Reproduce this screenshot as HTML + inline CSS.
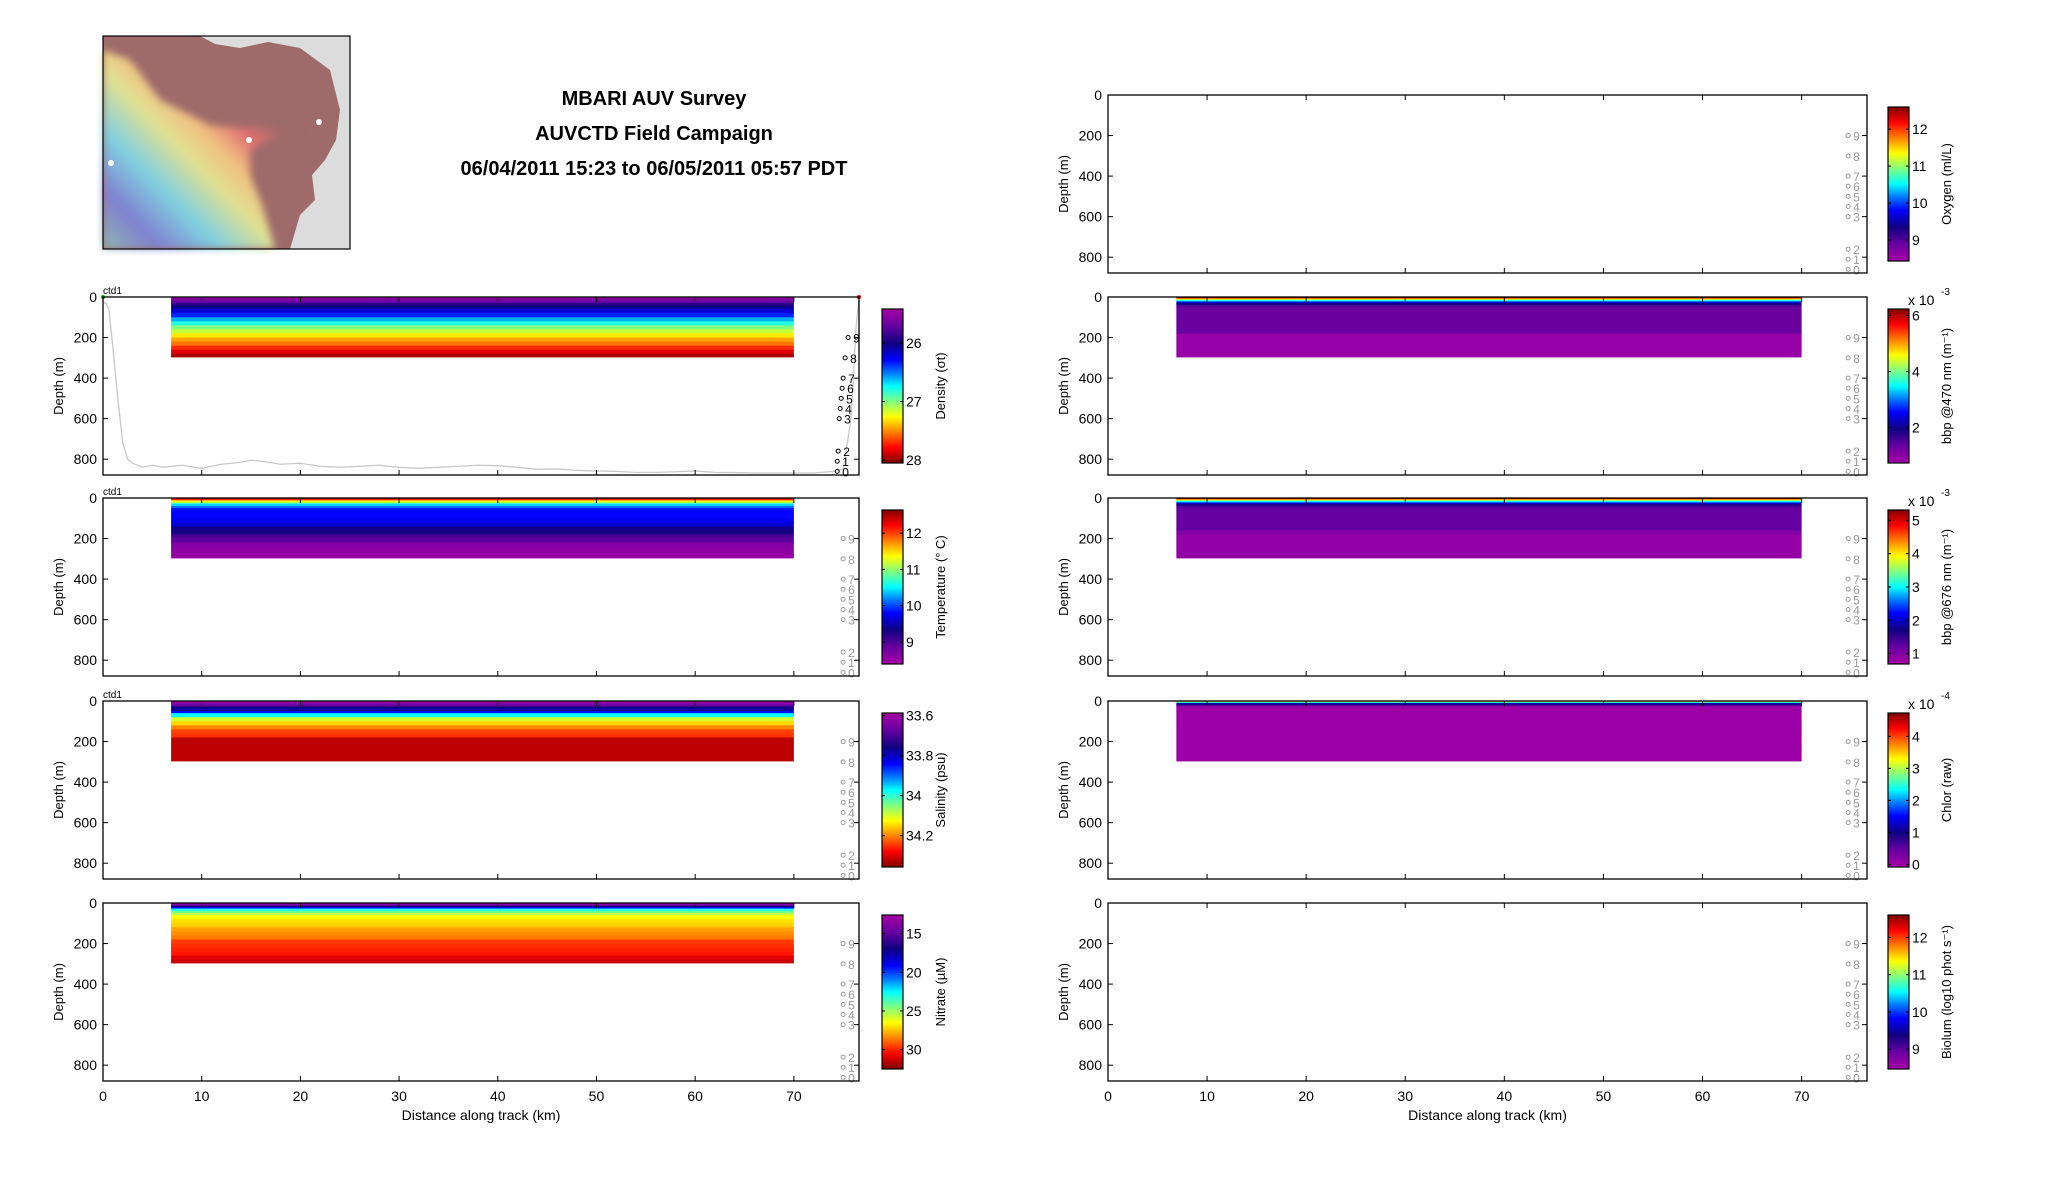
<!DOCTYPE html>
<html><head><meta charset="utf-8"><style>
body{margin:0;background:#fff;}
svg{display:block;font-family:"Liberation Sans",sans-serif;}
</style></head><body>
<svg id="fig" width="2052" height="1188" viewBox="0 0 2052 1188" xmlns="http://www.w3.org/2000/svg">
<defs>
<linearGradient id="jetV" x1="0" y1="1" x2="0" y2="0">
<stop offset="0" stop-color="#a800a8"/><stop offset="0.12" stop-color="#6000a0"/><stop offset="0.22" stop-color="#100080"/><stop offset="0.33" stop-color="#0000ff"/><stop offset="0.42" stop-color="#0080ff"/><stop offset="0.5" stop-color="#00ffff"/><stop offset="0.6" stop-color="#80ff80"/><stop offset="0.7" stop-color="#ffff00"/><stop offset="0.8" stop-color="#ff8000"/><stop offset="0.9" stop-color="#ff0000"/><stop offset="1" stop-color="#800000"/>
</linearGradient>
<linearGradient id="jetVinv" x1="0" y1="0" x2="0" y2="1">
<stop offset="0" stop-color="#a800a8"/><stop offset="0.12" stop-color="#6000a0"/><stop offset="0.22" stop-color="#100080"/><stop offset="0.33" stop-color="#0000ff"/><stop offset="0.42" stop-color="#0080ff"/><stop offset="0.5" stop-color="#00ffff"/><stop offset="0.6" stop-color="#80ff80"/><stop offset="0.7" stop-color="#ffff00"/><stop offset="0.8" stop-color="#ff8000"/><stop offset="0.9" stop-color="#ff0000"/><stop offset="1" stop-color="#800000"/>
</linearGradient>
<linearGradient id="mapG" x1="0" y1="1" x2="1" y2="0">
<stop offset="0" stop-color="#8fb8b0"/><stop offset="0.15" stop-color="#8080d0"/><stop offset="0.3" stop-color="#80d0e0"/><stop offset="0.45" stop-color="#e0e090"/><stop offset="0.55" stop-color="#f0c080"/><stop offset="0.65" stop-color="#e07070"/><stop offset="0.75" stop-color="#9e6a6a"/>
</linearGradient>
<filter id="blur"><feGaussianBlur stdDeviation="4"/></filter>
</defs>
<g id="map">
<rect x="103" y="36" width="247" height="213" fill="#dcdcdc"/>
<path d="M103 36 L200 36 L215 44 L240 48 L268 42 L300 48 L330 70 L340 110 L336 140 L325 160 L312 175 L315 200 L300 215 L290 249 L103 249 Z" fill="#9e6a6a"/>
<path d="M103 50 L130 60 L160 100 L190 115 L210 125 L240 128 L280 125 L300 128 L270 140 L250 150 L250 175 L262 205 L275 249 L103 249 Z" fill="url(#mapG)" filter="url(#blur)"/>
<circle cx="111" cy="163" r="3" fill="#fff"/><circle cx="249" cy="140" r="3" fill="#fff"/><circle cx="319" cy="122" r="3" fill="#fff"/>
<rect x="103" y="36" width="247" height="213" fill="none" stroke="#000" stroke-width="1.2"/>
</g>
<g font-weight="bold" font-size="20" text-anchor="middle">
<text x="654" y="105">MBARI AUV Survey</text>
<text x="654" y="140">AUVCTD Field Campaign</text>
<text x="654" y="175">06/04/2011 15:23 to 06/05/2011 05:57 PDT</text>
</g>
<g id="panels"></g>
</svg>
<script>
const xTicks=[0,10,20,30,40,50,60,70];
const yTicks=[0,200,400,600,800];
const bandDepths=[0,5,10,15,20,25,30,40,50,60,80,100,120,140,160,180,200,220,240,260,280,295];
const densityVals=[25.5,25.55,25.6,25.65,25.7,25.75,25.9,26.0,26.05,26.2,26.35,26.6,26.8,27.0,27.15,27.3,27.45,27.55,27.7,27.85,27.97];
const tempVals=[12.3,12.1,11.6,11.3,11.1,10.7,10.4,10.1,9.85,9.8,9.8,9.75,9.65,9.35,9.3,9.0,8.9,8.65,8.6,8.55,8.5];
const salVals=[33.6,33.62,33.63,33.65,33.68,33.72,33.76,33.78,33.85,33.97,34.1,34.15,34.2,34.24,34.25,34.32,34.32,34.32,34.32,34.32,34.32];
const nitVals=[13,13.5,15,17,19,21,23,24.5,25.5,26.5,27,27.3,28,28.3,28.6,29.6,29.8,30,30.2,31,31.3];
const bbp470Vals=[6.0,5.2,4.3,3.6,3.0,2.3,1.9,1.5,1.3,1.3,1.3,1.3,1.3,1.3,1.3,0.9,0.9,0.9,0.9,0.9,0.9];
const bbp676Vals=[5.0,4.3,3.6,3.0,2.5,2.0,1.6,1.3,1.2,1.2,1.2,1.2,1.2,1.2,1.0,0.85,0.85,0.85,0.85,0.85,0.85];
const chlVals=[3.5,2.5,1.2,0.9,0.5,0.1,0.0,0.0,0.0,0.0,0.0,0.0,0.0,0.0,0.0,0.0,0.0,0.0,0.0,0.0,0.0];
const sectionKm=[6.9,70];
const bathyKm=[0,0.3,0.6,1,1.5,2,2.5,3,4,5,6,8,10,12,14,15,16,18,20,22,24,26,28,30,32,34,36,38,40,42,44,46,48,50,52,54,56,58,60,62,64,66,68,70,72,74,75,75.8,76.3,76.6];
const bathyDepth=[30,30,60,250,500,720,800,820,840,830,840,830,845,825,815,805,810,825,820,835,840,835,830,840,845,840,835,830,832,840,850,848,855,858,860,865,865,862,858,865,866,868,868,868,868,860,850,600,150,0];
const stationLabels=['0','1','2','3','4','5','6','7','8','9'];
const stationDepth=[860,810,760,600,550,500,450,400,300,200];
const stationKm=[75.0,75.0,75.1,75.2,75.3,75.4,75.5,75.6,75.8,76.1];
const kmMax=76.6, dMax=878;
const stops=[[0,[168,0,168]],[0.12,[96,0,160]],[0.22,[16,0,128]],[0.33,[0,0,255]],[0.42,[0,128,255]],[0.5,[0,255,255]],[0.6,[128,255,128]],[0.7,[255,255,0]],[0.8,[255,128,0]],[0.9,[255,0,0]],[1,[128,0,0]]];
function cmap(f){f=Math.max(0,Math.min(1,f));for(let i=1;i<stops.length;i++){if(f<=stops[i][0]){const a=stops[i-1],b=stops[i];const t=(f-a[0])/(b[0]-a[0]);const c=a[1].map((v,k)=>Math.round(v+(b[1][k]-v)*t));return `rgb(${c})`;}}return 'rgb(128,0,0)';}
const NS='http://www.w3.org/2000/svg';
const root=document.getElementById('panels');
function el(tag,attrs,parent,txt){const e=document.createElementNS(NS,tag);for(const k in attrs)e.setAttribute(k,attrs[k]);if(txt!==undefined)e.textContent=txt;(parent||root).appendChild(e);return e;}
const panels=[
{id:'density',x0:103,x1:859,y0:297,vals:densityVals,min:25.42,max:28.05,inv:true,cbx:882,ticks:[26,27,28],title:'Density (σt)',ctd:true,bathy:true,xl:false},
{id:'temperature',x0:103,x1:859,y0:498,vals:tempVals,min:8.39,max:12.64,inv:false,cbx:882,ticks:[9,10,11,12],title:'Temperature (° C)',ctd:true,xl:false},
{id:'salinity',x0:103,x1:859,y0:701,vals:salVals,min:33.587,max:34.357,inv:true,cbx:882,ticks:[33.6,33.8,34,34.2],title:'Salinity (psu)',ctd:true,xl:false},
{id:'nitrate',x0:103,x1:859,y0:903,vals:nitVals,min:12.6,max:32.5,inv:true,cbx:882,ticks:[15,20,25,30],title:'Nitrate (µM)',xl:true},
{id:'oxygen',x0:1108,x1:1867,y0:95,vals:null,min:8.43,max:12.6,inv:false,cbx:1888,ticks:[9,10,11,12],title:'Oxygen (ml/L)',xl:false},
{id:'bbp470',x0:1108,x1:1867,y0:297,vals:bbp470Vals,min:0.74,max:6.23,inv:false,cbx:1888,ticks:[2,4,6],title:'bbp @470 nm (m⁻¹)',exp:'-3',xl:false},
{id:'bbp676',x0:1108,x1:1867,y0:498,vals:bbp676Vals,min:0.69,max:5.31,inv:false,cbx:1888,ticks:[1,2,3,4,5],title:'bbp @676 nm (m⁻¹)',exp:'-3',xl:false},
{id:'chlor',x0:1108,x1:1867,y0:701,vals:chlVals,min:-0.08,max:4.73,inv:false,cbx:1888,ticks:[0,1,2,3,4],title:'Chlor (raw)',exp:'-4',xl:false},
{id:'biolum',x0:1108,x1:1867,y0:903,vals:null,min:8.47,max:12.6,inv:false,cbx:1888,ticks:[9,10,11,12],title:'Biolum (log10 phot s⁻¹)',xl:true}
];
const PH=178;
panels.forEach(p=>{
 const g=el('g',{});
 
 
 const sx=k=>p.x0+k/kmMax*(p.x1-p.x0);
 const sy=d=>p.y0+d/dMax*PH;
 if(p.vals){
  p.vals.forEach((v,i)=>{
   const r=el('rect',{x:sx(sectionKm[0]),y:sy(bandDepths[i]),width:sx(sectionKm[1])-sx(sectionKm[0]),height:sy(bandDepths[i+1])-sy(bandDepths[i])+0.6,fill:cmap((v-p.min)/(p.max-p.min))},g);
   
   
  });
 }
 if(p.bathy){
  const pts=bathyKm.map((k,i)=>sx(k)+','+sy(bathyDepth[i])).join(' ');
  const pl=el('polyline',{points:pts,fill:'none',stroke:'#c8c8c8','stroke-width':1.3},g);
  
  
  el('circle',{cx:sx(0),cy:sy(0),r:2,fill:'#0a0'},g);
  el('circle',{cx:sx(kmMax),cy:sy(0),r:2,fill:'#e00'},g);
 }
 const sc=p.bathy?'#000':'#999';
 stationLabels.forEach((s,i)=>{
  const k=p.bathy?stationKm[i]:(p.x0>500?75.3:75.6);
  const c=el('circle',{cx:sx(k)-6,cy:sy(stationDepth[i]),r:2,fill:'none',stroke:sc,'stroke-width':1},g);
  
  
  el('text',{x:sx(k)-1,y:sy(stationDepth[i])+5,'font-size':12,fill:sc},g,s);
 });
 el('rect',{x:p.x0,y:p.y0,width:p.x1-p.x0,height:PH,fill:'none',stroke:'#000','stroke-width':1.3},g);
 xTicks.forEach(t=>{el('line',{x1:sx(t),x2:sx(t),y1:p.y0,y2:p.y0+5,stroke:'#000'},g);el('line',{x1:sx(t),x2:sx(t),y1:p.y0+PH,y2:p.y0+PH-5,stroke:'#000'},g);
  if(p.xl){const t2=el('text',{x:sx(t),y:p.y0+PH+20,'font-size':14,'text-anchor':'middle'},g,String(t));}
 });
 yTicks.forEach(t=>{el('line',{x1:p.x0,x2:p.x0+5,y1:sy(t),y2:sy(t),stroke:'#000'},g);el('line',{x1:p.x1,x2:p.x1-5,y1:sy(t),y2:sy(t),stroke:'#000'},g);
  const t2=el('text',{x:p.x0-6,y:sy(t)+5,'font-size':14,'text-anchor':'end'},g,String(t));});
 const yl=el('text',{x:0,y:0,'font-size':13,'text-anchor':'middle',transform:`translate(${p.x0-40},${p.y0+PH/2}) rotate(-90)`},g,'Depth (m)');
 
 
 if(p.ctd){const c=el('text',{x:p.x0,y:p.y0-3,'font-size':10},g,'ctd1');}
 if(p.xl){const xt=el('text',{x:(p.x0+p.x1)/2,y:p.y0+PH+39,'font-size':14,'text-anchor':'middle'},g,'Distance along track (km)');}
 const cy0=p.y0+12,ch=154,cw=21;
 const cb=el('rect',{x:p.cbx,y:cy0,width:cw,height:ch,fill:p.inv?'url(#jetVinv)':'url(#jetV)',stroke:'#000','stroke-width':1.2},g);
 
 
 p.ticks.forEach(t=>{
  let f=(t-p.min)/(p.max-p.min);
  const y=p.inv?cy0+f*ch:cy0+(1-f)*ch;
  el('line',{x1:p.cbx,x2:p.cbx+3,y1:y,y2:y,stroke:'#000'},g);
  el('line',{x1:p.cbx+cw,x2:p.cbx+cw-3,y1:y,y2:y,stroke:'#000'},g);
  const tl=el('text',{x:p.cbx+cw+3,y:y+5,'font-size':14},g,String(t));
  
  
 });
 const ct=el('text',{x:0,y:0,'font-size':13,'text-anchor':'middle',transform:`translate(${p.cbx+cw+42},${cy0+ch/2}) rotate(-90)`},g,p.title);
 
 
 if(p.exp){const ex=el('text',{x:p.cbx+20,y:cy0-4,'font-size':14},g,'x 10');el('text',{x:p.cbx+53,y:cy0-14,'font-size':10},g,p.exp);}
});
</script>
</body></html>
